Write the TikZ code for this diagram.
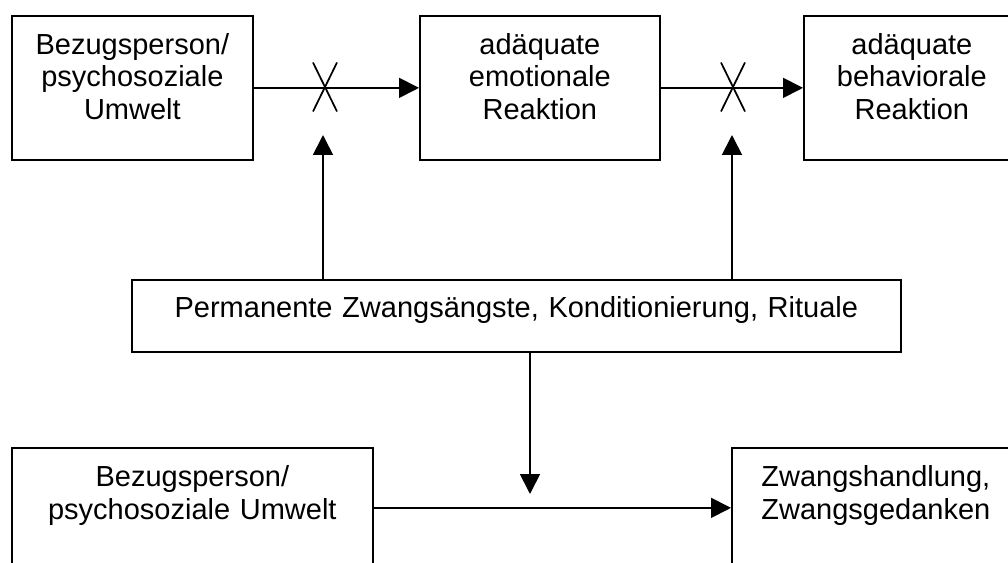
\documentclass[tikz,border=0pt]{standalone}
\usepackage{fontspec}
\setmainfont{Liberation Sans}
\usepackage{tikz}
\usetikzlibrary{arrows.meta}
\tikzset{>={Triangle[length=15pt,width=15pt]}}
\tikzset{%
    box/.style={draw, line width=1.3pt, inner sep=0pt, anchor=north west, align=center,
        font=\fontsize{21.75pt}{24.4pt}\selectfont, text height=28.9pt, text depth=79.1pt},
    flow/.style={->, line width=1.3pt},
    cross/.style={line width=1.3pt}
}

\begin{document}
\begin{tikzpicture}[x=0.75pt,y=-0.75pt]
  \clip (0,0) rectangle (1008,563);
  \node[box, text width=180.75pt] (bezug) at (11,15) {Bezugsperson/\\psychosoziale\\Umwelt};
  \node[box, text width=180pt] (emot) at (419,15) {adäquate\\emotionale\\Reaktion};
  \node[box, text width=162pt] (behav) at (803,15) {adäquate\\behaviorale\\Reaktion};
  \node[box, text width=576.75pt, text height=28.5pt, text depth=25.5pt] (perm) at (131,279) {Permanente Zwangsängste, Konditionierung, Rituale};
  \node[box, text width=270.75pt, text height=29.25pt, text depth=60.75pt] (umwelt) at (11,447) {Bezugsperson/\\psychosoziale Umwelt};
  \node[box, text width=216pt, text height=29.25pt, text depth=60.75pt] (zwang) at (731,447) {Zwangshandlung,\\Zwangsgedanken};
  \coordinate (x1) at (325,87);
  \coordinate (x2) at (733,87);
  \coordinate (x1tip) at (323,135);
  \coordinate (x2tip) at (732,135);
  \coordinate (dtip) at (530,494);
  \draw[flow] (bezug) -- (emot);
  \draw[flow] (emot) -- (behav);
  \draw[flow] (umwelt) -- (zwang);
  % blockierte Verbindungen
  \draw[cross] (x1) +(-12,-24.5) -- +(12,24.5);
  \draw[cross] (x1) +(12,-24.5) -- +(-12,24.5);
  \draw[cross] (x2) +(-12,-24.5) -- +(12,24.5);
  \draw[cross] (x2) +(12,-24.5) -- +(-12,24.5);
  \draw[flow] (perm.north -| x1tip) -- (x1tip);
  \draw[flow] (perm.north -| x2tip) -- (x2tip);
  \draw[flow] (perm.south -| dtip) -- (dtip);
\end{tikzpicture}
\end{document}
